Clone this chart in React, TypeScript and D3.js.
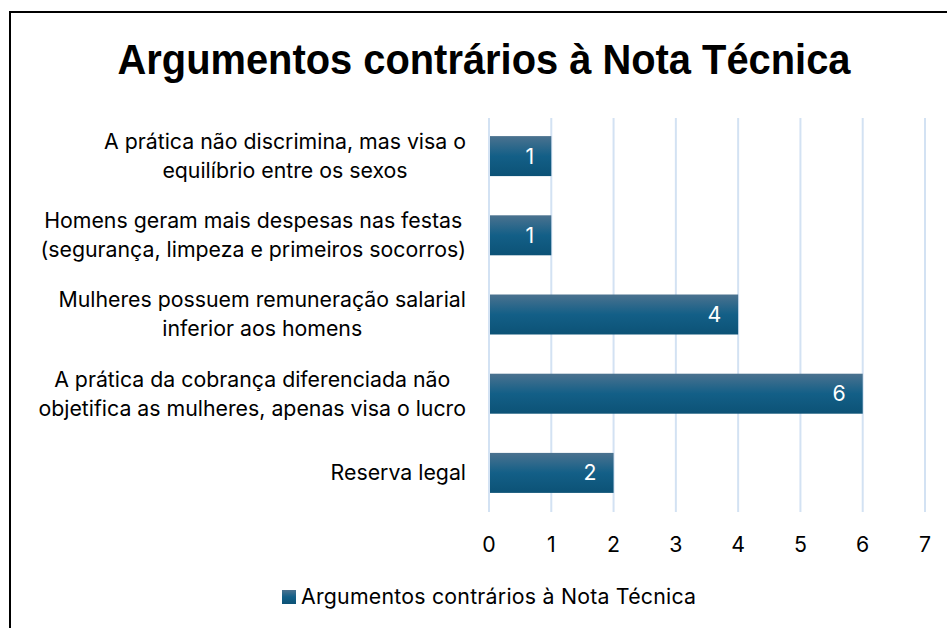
import React from "react";
import * as d3 from "d3";

const categories: string[][] = [
  ["A prática não discrimina, mas visa o", "equilíbrio entre os sexos"],
  ["Homens geram mais despesas nas festas", "(segurança, limpeza e primeiros socorros)"],
  ["Mulheres possuem remuneração salarial", "inferior aos homens"],
  ["A prática da cobrança diferenciada não", "objetifica as mulheres, apenas visa o lucro"],
  ["Reserva legal"],
];
const values: number[] = [1, 1, 4, 6, 2];
const ticks: number[] = [0, 1, 2, 3, 4, 5, 6, 7];
const title = "Argumentos contrários à Nota Técnica";
const seriesName = "Argumentos contrários à Nota Técnica";

const W = 947;
const H = 628;
const FONT = "Inter, 'Open Sans', 'Liberation Sans', sans-serif";
const FS = 21.3;

let ctx: CanvasRenderingContext2D | null = null;
function measure(s: string): number {
  if (!ctx) {
    const c = document.createElement("canvas");
    ctx = c.getContext("2d");
  }
  if (!ctx) return s.length * FS * 0.55;
  ctx.font = `${FS}px Inter, 'Open Sans', sans-serif`;
  return ctx.measureText(s).width;
}

export default function App() {
  const x = d3.scaleLinear().domain([0, 7]).range([489, 925]);
  const y = d3
    .scaleBand<number>()
    .domain(d3.range(categories.length))
    .range([116.5, 512.5])
    .paddingInner(0.495)
    .paddingOuter(0.2475);
  const bh = y.bandwidth();
  return (
    <svg
      width={W}
      height={H}
      style={{ position: "absolute", left: 0, top: 0, background: "#fff" }}
    >
      <defs>
        <linearGradient id="barGrad" x1="0" y1="0" x2="0" y2="1">
          <stop offset="0" stopColor="#4b728f" />
          <stop offset="0.5" stopColor="#135f87" />
          <stop offset="1" stopColor="#0c5276" />
        </linearGradient>
      </defs>
      <rect x={0} y={0} width={W} height={H} fill="#fff" />
      <path d={`M10,${H + 5} L10,12 L${W + 5},12`} fill="none" stroke="#000" strokeWidth={2} />
      <text
        x={484}
        y={74}
        textAnchor="middle"
        fontFamily="'Liberation Sans Narrow', 'Arial Narrow', 'Liberation Sans', sans-serif"
        fontWeight="bold"
        fontSize={43}
        textLength={733}
        lengthAdjust="spacingAndGlyphs"
        fill="#000"
      >
        {title}
      </text>
      {ticks.map((t) => (
        <line
          key={"g" + t}
          x1={x(t)}
          x2={x(t)}
          y1={118}
          y2={512}
          stroke="#d3e2f3"
          strokeWidth={2}
        />
      ))}
      {values.map((v, i) => (
        <g key={"b" + i}>
          <rect
            x={x(0) + 1}
            y={y(i)!}
            width={x(v) - x(0) - 1}
            height={bh}
            fill="url(#barGrad)"
          />
          <text
            x={x(v) - 17}
            y={y(i)! + bh / 2}
            dy="0.35em"
            textAnchor="end"
            fontFamily={FONT}
            fontSize={FS}
            fill="#fff"
          >
            {v}
          </text>
        </g>
      ))}
      {categories.map((lines, i) => {
        const cy = y(i)! + bh / 2;
        const lh = 29;
        const start = cy - ((lines.length - 1) * lh) / 2;
        const maxW = Math.max(...lines.map(measure));
        const cx = 466 - maxW / 2;
        return (
          <text
            key={"c" + i}
            textAnchor="middle"
            fontFamily={FONT}
            fontSize={FS}
            fill="#000"
          >
            {lines.map((l, j) => (
              <tspan key={j} x={cx} y={start + j * lh} dy="0.35em">
                {l}
              </tspan>
            ))}
          </text>
        );
      })}
      {ticks.map((t) => (
        <text
          key={"t" + t}
          x={x(t)}
          y={545}
          dy="0.35em"
          textAnchor="middle"
          fontFamily={FONT}
          fontSize={FS}
          fill="#000"
        >
          {t}
        </text>
      ))}
      <rect x={282} y={590} width={14} height={14} fill="url(#barGrad)" />
      <text
        x={301}
        y={597}
        dy="0.35em"
        fontFamily={FONT}
        fontSize={FS}
        textLength={395}
        lengthAdjust="spacing"
        fill="#000"
      >
        {seriesName}
      </text>
    </svg>
  );
}
